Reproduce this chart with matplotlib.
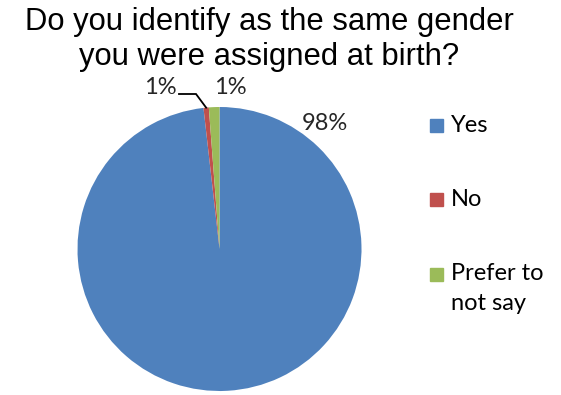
import numpy as np
import matplotlib
matplotlib.use("Agg")
import matplotlib.pyplot as plt
from matplotlib.patches import Rectangle

# Survey answers (share of respondents, %)
labels = ["Yes", "No", "Prefer to\nnot say"]
values = [98.2, 0.6, 1.2]
colors = ["#4F81BD", "#C0504D", "#9BBB59"]
title_lines = ["Do you identify as the same gender", "you were assigned at birth?"]

W, H = 561, 395
fig = plt.figure(figsize=(W / 100, H / 100), dpi=100)

# pie axes: center (219.5, 249) px, radius 142 px
cx, cy, r = 219.5, 249, 142
ax = fig.add_axes([(cx - r) / W, (H - cy - r) / H, 2 * r / W, 2 * r / H])
wedges, _ = ax.pie(values, colors=colors, startangle=90, counterclock=False,
                   radius=1, wedgeprops=dict(linewidth=0))
ax.set_xlim(-1, 1)
ax.set_ylim(-1, 1)
ax.set_aspect("equal")
ax.axis("off")


def px(x, y):
    # pixel position -> pie data coords
    return (x - cx) / r, (cy - y) / r


lab_font = dict(family="Lato", fontsize=17, color="#262626")
pct = [f"{round(v)}%" for v in values]

# 98% label
ax.text(*px(325, 124), pct[0], ha="center", va="center", **lab_font)

# No label with leader line
mid = np.deg2rad((wedges[1].theta1 + wedges[1].theta2) / 2)
ax.text(*px(160, 87), pct[1], ha="center", va="center", **lab_font)
p0 = px(179, 94)
p1 = px(196, 94)
ax.plot([p0[0], p1[0], np.cos(mid)], [p0[1], p1[1], np.sin(mid)],
        color="black", lw=1.3, clip_on=False, solid_joinstyle="miter")

# Prefer not to say label
ax.text(*px(230, 88), pct[2], ha="center", va="center", **lab_font)

# title
for line, ty in zip(title_lines, [30, 65]):
    fig.text(269 / W, 1 - ty / H, line, ha="center", va="baseline",
             family="Liberation Sans", fontsize=22.3)

# legend
rows_y = [125, 199, 274]
for lab, col, yy in zip(labels, colors, rows_y):
    fig.add_artist(Rectangle((430 / W, 1 - (yy + 7) / H), 13 / W, 13 / H,
                             transform=fig.transFigure, color=col))
    first, *rest = lab.split("\n")
    fig.text(451 / W, 1 - yy / H, first, ha="left", va="center",
             family="Lato", fontsize=17, color="black")
    for k, extra in enumerate(rest, start=1):
        fig.text(451 / W, 1 - (yy + 30 * k) / H, extra, ha="left", va="center",
                 family="Lato", fontsize=17, color="black")

fig.savefig("out.png", dpi=100)
